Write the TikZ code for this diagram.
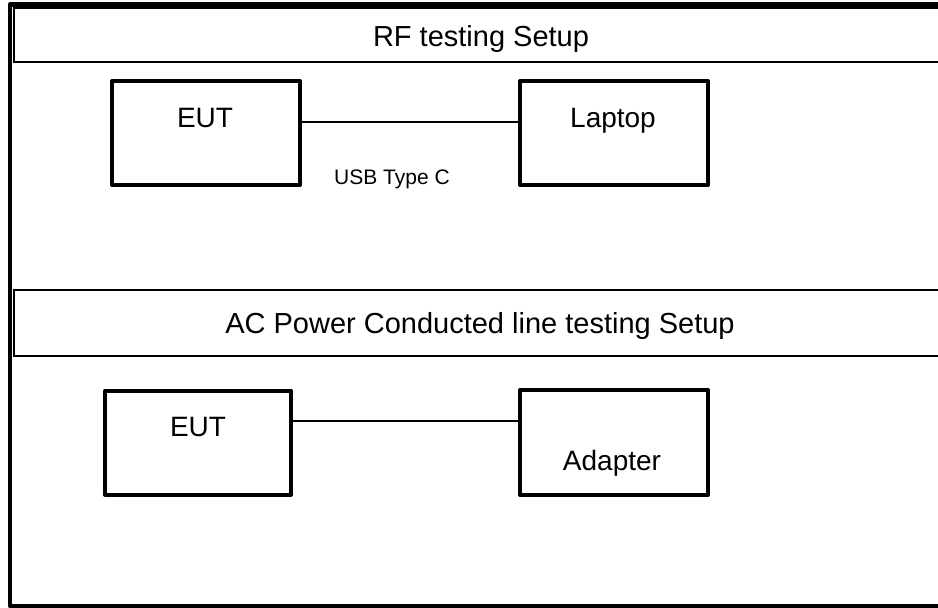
\documentclass[tikz,border=0pt]{standalone}
\usepackage{fontspec}
\setmainfont{Liberation Sans}
\begin{document}
\begin{tikzpicture}[x=1pt,y=-1pt,
  devbox/.style={draw=black,line width=4pt,line join=round,rectangle,inner sep=0pt,outer sep=0pt,fill=white},
  band/.style={draw=black,line width=1.5pt,rectangle,inner sep=0pt,outer sep=0pt},
  ttl/.style={anchor=base,inner sep=0pt,font=\fontsize{29}{34}\selectfont},
  lbl/.style={anchor=base,inner sep=0pt,font=\fontsize{28}{33}\selectfont},
  small/.style={anchor=base,inner sep=0pt,font=\fontsize{21}{25}\selectfont},
  wire/.style={draw=black,line width=1.4pt}]
\useasboundingbox (0,0) rectangle (938,608);
\fill[white] (0,0) rectangle (938,608);
% outer frame (right side lies beyond the picture)
\draw[line width=4.5pt,line join=round] (10,4.5) rectangle (960,606);
% title bands
\node[band,minimum width=940pt,minimum height=54pt] (band1) at (484,35) {};
\node[band,minimum width=940pt,minimum height=66pt] (band2) at (484,323) {};
\node[ttl] (t1) at (481,46) {RF testing Setup};
\node[ttl] (t2) at (480,333) {AC Power Conducted line testing Setup};
% RF setup
\node[devbox,minimum width=188pt,minimum height=104pt] (eut1) at (206,133) {};
\node[devbox,minimum width=188pt,minimum height=104pt] (laptop) at (614,133) {};
\node[lbl] (eut1t) at (205,127) {EUT};
\node[lbl] (laptopt) at (613,127) {Laptop};
\draw[wire] ([yshift=11pt]eut1.east) -- ([yshift=11pt]laptop.west);
\node[small] (usb) at (392,184) {USB Type C};
% AC setup
\node[devbox,minimum width=186pt,minimum height=104pt] (eut2) at (198,442.5) {};
\node[devbox,minimum width=188pt,minimum height=105pt] (adapter) at (614,442.5) {};
\node[lbl] (eut2t) at (198,436) {EUT};
\node[lbl] (adaptert) at (612,470) {Adapter};
\draw[wire] ([yshift=21.5pt]eut2.east) -- ([yshift=21.5pt]adapter.west);
\end{tikzpicture}
\end{document}
